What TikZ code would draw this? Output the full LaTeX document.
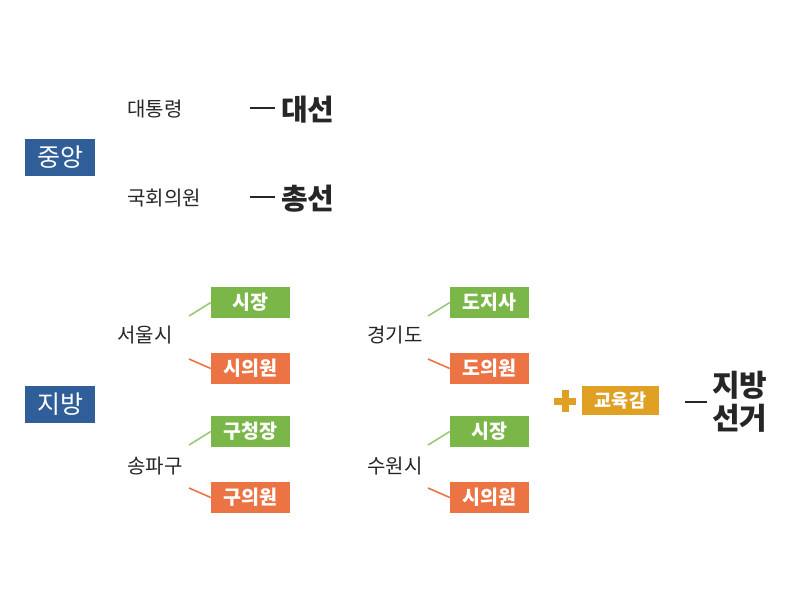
\documentclass[tikz,border=0pt]{standalone}
\usepackage{fontspec}
\setmainfont{Noto Sans CJK KR}
\definecolor{cblue}{HTML}{2F5E99}
\definecolor{cgreen}{HTML}{7AB648}
\definecolor{corange}{HTML}{EC7343}
\definecolor{cgold}{HTML}{DFA024}
\definecolor{ctext}{HTML}{262626}
\begin{document}
\begin{tikzpicture}[x=1pt,y=-1pt,
  catbox/.style={fill=cblue,text=white,minimum width=70pt,minimum height=37pt,inner sep=0pt,font=\fontsize{25}{28}\selectfont},
  plain/.style={text=ctext,inner sep=0pt,font=\fontsize{20}{24}\selectfont},
  big/.style={text=ctext,inner sep=0pt,font=\fontsize{29}{33}\selectfont\bfseries},
  gbox/.style={fill=cgreen,text=white,minimum width=79pt,minimum height=31pt,inner sep=0pt,font=\fontsize{19.5}{22}\selectfont\bfseries},
  obox/.style={fill=corange,text=white,minimum width=79pt,minimum height=31pt,inner sep=0pt,font=\fontsize{19.5}{22}\selectfont\bfseries},
  gline/.style={draw=cgreen!75!white,line width=1.6pt},
  oline/.style={draw=corange,line width=1.6pt},
  dashline/.style={draw=ctext,line width=2.6pt}]
\useasboundingbox (0,0) rectangle (800,600);
% central
\node[catbox] (jungang) at (60,157) {중앙};
\node[catbox] (jibang) at (60,404) {지방};
\node[plain,anchor=west] (pres) at (127,109) {대통령};
\node[plain,anchor=west] (assem) at (127,198) {국회의원};
\node[big,anchor=west] (daeseon) at (281,110) {대선};
\node[big,anchor=west] (chongseon) at (281,199) {총선};
\coordinate (d1a) at (250,108); \coordinate (d1b) at (275,108);
\coordinate (d2a) at (250,197); \coordinate (d2b) at (275,197);
\draw[dashline] (d1a) -- (d1b);
\draw[dashline] (d2a) -- (d2b);
% Seoul
\node[plain,anchor=west] (seoul) at (117,335) {서울시};
\node[gbox] (s1) at (250.5,302.5) {시장};
\node[obox] (s2) at (250.5,368.5) {시의원};
\coordinate (seoulg) at (189,316); \coordinate (seoulo) at (189,359);
\draw[gline] (seoulg) -- (s1.west);
\draw[oline] (seoulo) -- (s2.west);
% Songpa
\node[plain,anchor=west] (songpa) at (127,466) {송파구};
\node[gbox] (p1) at (250.5,431.5) {구청장};
\node[obox] (p2) at (250.5,497.5) {구의원};
\coordinate (songg) at (189,445); \coordinate (songo) at (189,488);
\draw[gline] (songg) -- (p1.west);
\draw[oline] (songo) -- (p2.west);
% Gyeonggi
\node[plain,anchor=west] (gyeonggi) at (367,335) {경기도};
\node[gbox] (g1) at (489.5,302.5) {도지사};
\node[obox] (g2) at (489.5,368.5) {도의원};
\coordinate (gyg) at (428,316); \coordinate (gyo) at (428,359);
\draw[gline] (gyg) -- (g1.west);
\draw[oline] (gyo) -- (g2.west);
% Suwon
\node[plain,anchor=west] (suwon) at (367,466) {수원시};
\node[gbox] (w1) at (489.5,431.5) {시장};
\node[obox] (w2) at (489.5,497.5) {시의원};
\coordinate (swg) at (428,445); \coordinate (swo) at (428,488);
\draw[gline] (swg) -- (w1.west);
\draw[oline] (swo) -- (w2.west);
% education
\fill[cgold] (561.5,390) rectangle (568.5,412);
\fill[cgold] (554,397.5) rectangle (576,404.5);
\node[fill=cgold,text=white,minimum width=77pt,minimum height=29pt,inner sep=0pt,font=\fontsize{18.5}{21}\selectfont\bfseries] (edu) at (620.5,400.5) {교육감};
\coordinate (d3a) at (685,402); \coordinate (d3b) at (707,402);
\draw[dashline] (d3a) -- (d3b);
\node[big,anchor=west,align=center,font=\fontsize{30}{33}\selectfont\bfseries] (local) at (712,402) {지방\\선거};
\end{tikzpicture}
\end{document}
